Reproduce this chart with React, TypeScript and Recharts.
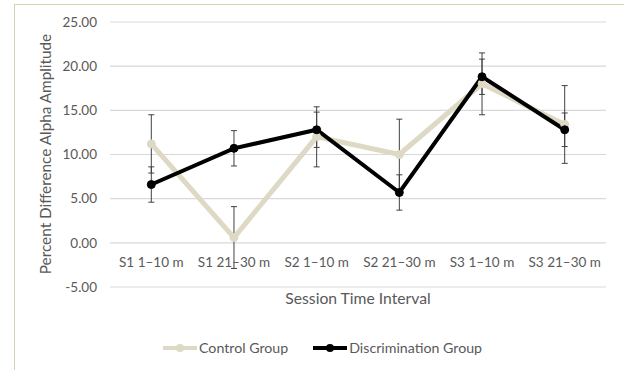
import React from 'react'
import {
  LineChart,
  Line,
  XAxis,
  YAxis,
  CartesianGrid,
  ErrorBar,
  Legend,
} from 'recharts'

const INTERVALS = ['S1 1–10 m', 'S1 21–30 m', 'S2 1–10 m', 'S2 21–30 m', 'S3 1–10 m', 'S3 21–30 m']
const CONTROL = [11.2, 0.6, 12.0, 10.0, 18.0, 13.4]
const CONTROL_ERR = [3.3, 3.5, 3.4, 4.0, 3.5, 4.4]
const DISCRIMINATION = [6.6, 10.7, 12.8, 5.7, 18.8, 12.8]
const DISCRIMINATION_ERR = [2.0, 2.0, 2.0, 2.0, 2.0, 1.9]
const Y_TICKS = [-5, 0, 5, 10, 15, 20, 25]

const CONTROL_COLOR = '#ddd9c4'
const DISC_COLOR = '#000000'
const TEXT_COLOR = '#595959'
const FONT = 'Lato, "Open Sans", sans-serif'

const data = INTERVALS.map((interval, i) => ({
  interval,
  control: CONTROL[i],
  controlErr: CONTROL_ERR[i],
  disc: DISCRIMINATION[i],
  discErr: DISCRIMINATION_ERR[i],
}))

// category labels sit just under the zero line, not at the bottom of the plot
const IntervalTick = ({ x, y, payload }: any) => (
  <text x={x} y={y - 20} textAnchor="middle" fill={TEXT_COLOR} fontSize={13.5} fontFamily={FONT}>
    {payload.value}
  </text>
)

const YTitle = () => {
  const cx = 45
  const cy = 154
  return (
    <text
      x={cx}
      y={cy}
      transform={`rotate(-90 ${cx} ${cy})`}
      textAnchor="middle"
      dominantBaseline="central"
      fill={TEXT_COLOR}
      fontSize={15.3}
      fontFamily={FONT}
    >
      Percent Difference Alpha Amplitude
    </text>
  )
}

const LegendKey = ({ color }: { color: string }) => (
  <svg width={34} height={10} style={{ display: 'block' }}>
    <line x1={0} y1={5} x2={34} y2={5} stroke={color} strokeWidth={4} />
    <circle cx={17} cy={5} r={4} fill={color} />
  </svg>
)

const GroupLegend = () => (
  <div
    style={{
      display: 'flex',
      alignItems: 'center',
      fontFamily: FONT,
      fontSize: 14.2,
      color: TEXT_COLOR,
      marginLeft: 163,
    }}
  >
    <LegendKey color={CONTROL_COLOR} />
    <span style={{ marginLeft: 2 }}>Control Group</span>
    <div style={{ width: 25 }} />
    <LegendKey color={DISC_COLOR} />
    <span style={{ marginLeft: 2 }}>Discrimination Group</span>
  </div>
)

export default function App() {
  return (
    <div style={{ position: 'absolute', left: 0, top: 0, width: 624, height: 370, background: '#fff' }}>
      <div
        style={{
          position: 'absolute',
          left: 14,
          top: 4,
          right: 0,
          bottom: 0,
          borderTop: '1.5px solid #d6d1b1',
          borderLeft: '1.5px solid #d6d1b1',
        }}
      />
      <LineChart
        width={624}
        height={370}
        data={data}
        margin={{ top: 22, right: 18, left: 0, bottom: 0 }}
        style={{ position: 'absolute', left: 0, top: 0 }}
      >
        <CartesianGrid vertical={false} stroke="#d9d9d9" strokeWidth={1.2} />
        <XAxis
          dataKey="interval"
          height={83}
          padding={{ left: 41.3, right: 41.3 }}
          axisLine={false}
          tickLine={false}
          tickSize={0}
          tickMargin={0}
          interval={0}
          tick={<IntervalTick />}
          label={{
            value: 'Session Time Interval',
            position: 'insideTop',
            offset: 6,
            fill: TEXT_COLOR,
            fontSize: 15.7,
            fontFamily: FONT,
          }}
        />
        <YAxis
          width={110}
          domain={[-5, 25]}
          ticks={Y_TICKS}
          axisLine={false}
          tickLine={false}
          tickSize={0}
          tickMargin={13}
          tickFormatter={(v: number) => v.toFixed(2)}
          tick={{ fill: TEXT_COLOR, fontSize: 13.5, fontFamily: FONT }}
          label={<YTitle />}
        />
        <Line
          dataKey="control"
          name="Control Group"
          stroke={CONTROL_COLOR}
          strokeWidth={5}
          dot={{ r: 4, fill: CONTROL_COLOR, stroke: CONTROL_COLOR, strokeWidth: 1 }}
          isAnimationActive={false}
        >
          <ErrorBar dataKey="controlErr" width={3} stroke="#404040" strokeWidth={1} />
        </Line>
        <Line
          dataKey="disc"
          name="Discrimination Group"
          stroke={DISC_COLOR}
          strokeWidth={4}
          dot={{ r: 4, fill: DISC_COLOR, stroke: DISC_COLOR, strokeWidth: 1 }}
          isAnimationActive={false}
        >
          <ErrorBar dataKey="discErr" width={3} stroke="#404040" strokeWidth={1} />
        </Line>
        <Legend
          verticalAlign="middle"
          align="center"
          layout="horizontal"
          wrapperStyle={{ top: 339, left: 0, width: 624 }}
          content={<GroupLegend />}
        />
      </LineChart>
    </div>
  )
}
